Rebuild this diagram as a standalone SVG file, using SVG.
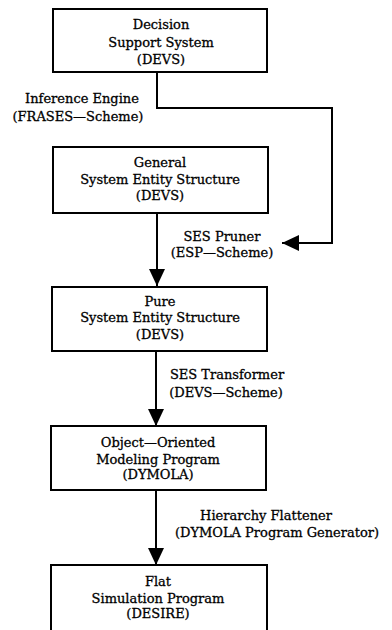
<svg xmlns="http://www.w3.org/2000/svg" width="392" height="630" viewBox="0 0 392 630">
<defs>
<style>
.box{fill:#fff;stroke:#000;stroke-width:2}
.t{font-family:"DejaVu Serif","Liberation Serif",serif;font-size:13px;fill:#000;stroke:#000;stroke-width:0.3;text-anchor:middle}
.ln{fill:none;stroke:#000;stroke-width:2}
</style>
<marker id="ah" viewBox="0 0 17 16" refX="17" refY="8" markerWidth="17" markerHeight="16" markerUnits="userSpaceOnUse" orient="auto">
<path d="M0,0 L17,8 L0,16 Z" fill="#000"/>
</marker>
</defs>
<rect width="392" height="630" fill="#fff"/>
<g id="connectors">
<polyline class="ln" points="157,72 157,108 332,108 332,243 282,243" marker-end="url(#ah)"/>
<line class="ln" x1="157" y1="213" x2="157" y2="286" marker-end="url(#ah)"/>
<line class="ln" x1="156" y1="351" x2="156" y2="426" marker-end="url(#ah)"/>
<line class="ln" x1="156" y1="490" x2="156" y2="565" marker-end="url(#ah)"/>
</g>
<g id="labels">
<text class="t" x="82" y="103">Inference Engine</text>
<text class="t" x="78" y="121">(FRASES—Scheme)</text>
<text class="t" x="222" y="241">SES Pruner</text>
<text class="t" x="222" y="257">(ESP—Scheme)</text>
<text class="t" x="227" y="379">SES Transformer</text>
<text class="t" x="226" y="397">(DEVS—Scheme)</text>
<text class="t" x="266" y="520">Hierarchy Flattener</text>
<text class="t" x="277" y="537">(DYMOLA Program Generator)</text>
</g>
<g id="n1">
<rect class="box" x="53" y="9" width="214" height="63"/>
<text class="t" x="161" y="29">Decision</text>
<text class="t" x="161" y="47">Support System</text>
<text class="t" x="161" y="64">(DEVS)</text>
</g>
<g id="n2">
<rect class="box" x="53" y="147" width="215" height="66"/>
<text class="t" x="160" y="167">General</text>
<text class="t" x="160" y="184">System Entity Structure</text>
<text class="t" x="160" y="200">(DEVS)</text>
</g>
<g id="n3">
<rect class="box" x="52" y="287" width="215" height="64"/>
<text class="t" x="160" y="306">Pure</text>
<text class="t" x="160" y="322">System Entity Structure</text>
<text class="t" x="160" y="339">(DEVS)</text>
</g>
<g id="n4">
<rect class="box" x="51" y="426" width="215" height="64"/>
<text class="t" x="158" y="447">Object—Oriented</text>
<text class="t" x="158" y="464">Modeling Program</text>
<text class="t" x="158" y="479">(DYMOLA)</text>
</g>
<g id="n5">
<rect class="box" x="51" y="565" width="216" height="70"/>
<text class="t" x="158" y="586">Flat</text>
<text class="t" x="158" y="603">Simulation Program</text>
<text class="t" x="158" y="618">(DESIRE)</text>
</g>
</svg>
